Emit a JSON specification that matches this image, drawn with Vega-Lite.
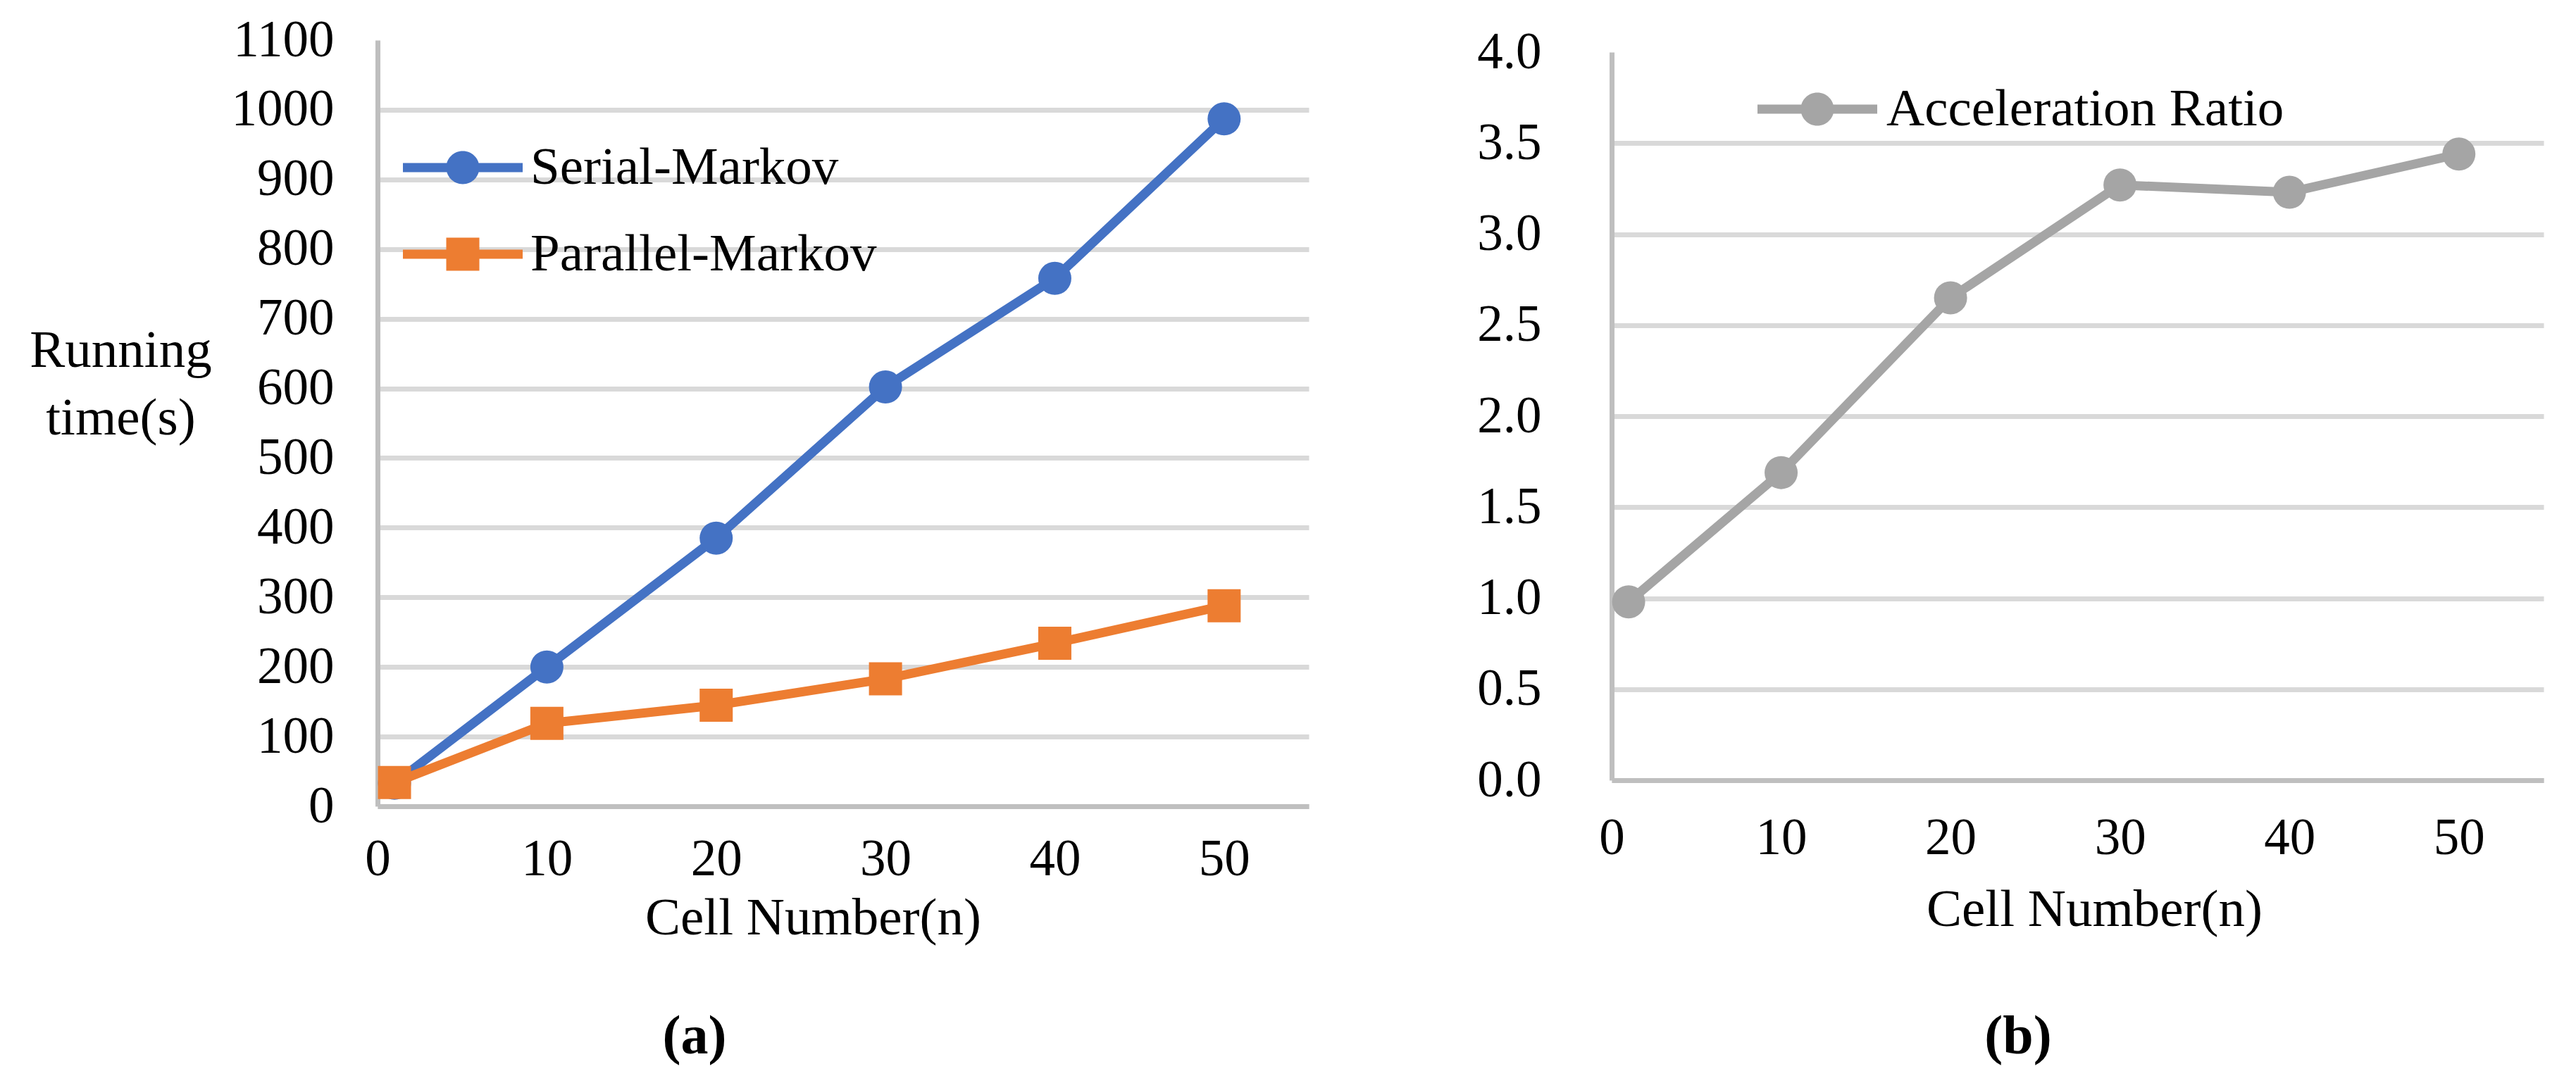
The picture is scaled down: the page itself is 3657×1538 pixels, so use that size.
{
  "$schema": "https://vega.github.io/schema/vega-lite/v6.json",
  "background": "white",
  "padding": {"left": 41, "top": 21, "right": 40, "bottom": 10},
  "bounds": "flush",
  "spacing": 430,
  "resolve": {
    "scale": {"color": "independent", "x": "independent", "y": "independent"},
    "legend": {"color": "independent"}
  },
  "config": {
    "view": {"stroke": null},
    "font": "Liberation Serif",
    "axis": {
      "labelFont": "Liberation Serif",
      "labelFontSize": 73,
      "labelColor": "#000000",
      "titleFont": "Liberation Serif",
      "titleFontSize": 75,
      "titleFontWeight": "normal",
      "titleColor": "#000000",
      "ticks": false,
      "tickSize": 0,
      "domainColor": "#BFBFBF",
      "domainWidth": 7,
      "gridColor": "#D9D9D9",
      "gridWidth": 7,
      "labelOverlap": false,
      "labelFlush": false,
      "labelBound": false
    },
    "legend": {
      "orient": "none",
      "padding": 0,
      "symbolSize": 2209,
      "rowPadding": 47,
      "labelFont": "Liberation Serif",
      "labelFontSize": 75,
      "labelColor": "#000000",
      "labelLimit": 0,
      "symbolStrokeWidth": 0
    }
  },
  "hconcat": [
    {
      "width": 1322,
      "height": 1088,
      "data": {
        "values": [
          {"n": 1, "series": "Serial-Markov", "time": 33},
          {"n": 10, "series": "Serial-Markov", "time": 200},
          {"n": 20, "series": "Serial-Markov", "time": 385},
          {"n": 30, "series": "Serial-Markov", "time": 602},
          {"n": 40, "series": "Serial-Markov", "time": 758},
          {"n": 50, "series": "Serial-Markov", "time": 987},
          {"n": 1, "series": "Parallel-Markov", "time": 34},
          {"n": 10, "series": "Parallel-Markov", "time": 119},
          {"n": 20, "series": "Parallel-Markov", "time": 145},
          {"n": 30, "series": "Parallel-Markov", "time": 183},
          {"n": 40, "series": "Parallel-Markov", "time": 234},
          {"n": 50, "series": "Parallel-Markov", "time": 288}
        ]
      },
      "title": {
        "text": "(a)",
        "orient": "bottom",
        "anchor": "middle",
        "frame": "group",
        "dx": -211,
        "offset": 155,
        "baseline": "alphabetic",
        "font": "Liberation Serif",
        "fontSize": 78,
        "fontWeight": "bold",
        "color": "#000000"
      },
      "encoding": {
        "x": {
          "field": "n",
          "type": "quantitative",
          "scale": {"domain": [0, 55], "nice": false},
          "axis": {
            "values": [0, 10, 20, 30, 40, 50],
            "grid": false,
            "labelPadding": 39,
            "title": "Cell Number(n)",
            "titleX": 618,
            "titleY": 181,
            "titleAlign": "center",
            "titleBaseline": "alphabetic"
          }
        },
        "y": {
          "field": "time",
          "type": "quantitative",
          "scale": {"domain": [0, 1100], "nice": false},
          "axis": {
            "values": [0, 100, 200, 300, 400, 500, 600, 700, 800, 900, 1000, 1100],
            "format": "d",
            "grid": true,
            "gridColor": {"condition": {"test": "datum.value >= 1100", "value": "transparent"}, "value": "#D9D9D9"},
            "labelPadding": 62,
            "title": ["Running", "time(s)"],
            "titleAngle": 0,
            "titleX": -365,
            "titleY": 463,
            "titleAlign": "center",
            "titleBaseline": "alphabetic",
            "titleLineHeight": 96
          }
        },
        "color": {
          "field": "series",
          "type": "nominal",
          "scale": {"domain": ["Serial-Markov", "Parallel-Markov"], "range": ["#4472C4", "#ED7D31"]},
          "legend": {
            "title": null,
            "orient": "none",
            "legendX": 83.5,
            "legendY": 143.5,
            "labelOffset": 58.5,
            "encode": {
              "symbols": {
                "update": {
                  "shape": {"signal": "datum.value === 'Serial-Markov' ? 'M-3.617,-0.277H3.617V0.277H-3.617Z M1,0A1,1,0,1,1,-1,0A1,1,0,1,1,1,0Z' : 'M-3.617,-0.277H3.617V0.277H-3.617Z M-1,-1H1V1H-1Z'"},
                  "fill": {"signal": "datum.value === 'Serial-Markov' ? '#4472C4' : '#ED7D31'"},
                  "stroke": {"value": "transparent"},
                  "opacity": {"value": 1}
                }
              }
            }
          }
        }
      },
      "layer": [
        {"mark": {"type": "line", "strokeWidth": 13, "strokeJoin": "round", "strokeCap": "round"}},
        {
          "transform": [{"filter": "datum.series === 'Serial-Markov'"}],
          "mark": {"type": "point", "filled": true, "opacity": 1, "size": 2209, "strokeWidth": 0, "shape": "circle"}
        },
        {
          "transform": [{"filter": "datum.series === 'Parallel-Markov'"}],
          "mark": {"type": "point", "filled": true, "opacity": 1, "size": 2209, "strokeWidth": 0, "shape": "square"}
        }
      ]
    },
    {
      "width": 1323,
      "height": 1051,
      "data": {
        "values": [
          {"n": 1, "series": "Acceleration Ratio", "ratio": 0.98},
          {"n": 10, "series": "Acceleration Ratio", "ratio": 1.69},
          {"n": 20, "series": "Acceleration Ratio", "ratio": 2.65},
          {"n": 30, "series": "Acceleration Ratio", "ratio": 3.27},
          {"n": 40, "series": "Acceleration Ratio", "ratio": 3.23},
          {"n": 50, "series": "Acceleration Ratio", "ratio": 3.44}
        ]
      },
      "title": {
        "text": "(b)",
        "orient": "bottom",
        "anchor": "middle",
        "frame": "group",
        "dx": -84.5,
        "offset": 167,
        "baseline": "alphabetic",
        "font": "Liberation Serif",
        "fontSize": 78,
        "fontWeight": "bold",
        "color": "#000000"
      },
      "encoding": {
        "x": {
          "field": "n",
          "type": "quantitative",
          "scale": {"domain": [0, 55], "nice": false},
          "axis": {
            "values": [0, 10, 20, 30, 40, 50],
            "grid": false,
            "labelPadding": 46,
            "title": "Cell Number(n)",
            "titleX": 685,
            "titleY": 206,
            "titleAlign": "center",
            "titleBaseline": "alphabetic"
          }
        },
        "y": {
          "field": "ratio",
          "type": "quantitative",
          "scale": {"domain": [0, 4.0658], "nice": false},
          "axis": {
            "values": [0, 0.5, 1, 1.5, 2, 2.5, 3, 3.5, 4],
            "format": ".1f",
            "grid": true,
            "gridColor": {"condition": {"test": "datum.value >= 4", "value": "transparent"}, "value": "#D9D9D9"},
            "labelPadding": 100,
            "domainDash": [1034, 3000],
            "title": null
          }
        },
        "color": {
          "field": "series",
          "type": "nominal",
          "scale": {"domain": ["Acceleration Ratio"], "range": ["#A5A5A5"]},
          "legend": {
            "title": null,
            "orient": "none",
            "legendX": 254.5,
            "legendY": 60.5,
            "labelOffset": 60.5,
            "encode": {
              "symbols": {
                "update": {
                  "shape": {"value": "M-3.617,-0.277H3.617V0.277H-3.617Z M1,0A1,1,0,1,1,-1,0A1,1,0,1,1,1,0Z"},
                  "fill": {"value": "#A5A5A5"},
                  "stroke": {"value": "transparent"},
                  "opacity": {"value": 1}
                }
              }
            }
          }
        }
      },
      "layer": [
        {"mark": {"type": "line", "strokeWidth": 13, "strokeJoin": "round", "strokeCap": "round"}},
        {"mark": {"type": "point", "filled": true, "opacity": 1, "size": 2209, "strokeWidth": 0, "shape": "circle"}}
      ]
    }
  ]
}
